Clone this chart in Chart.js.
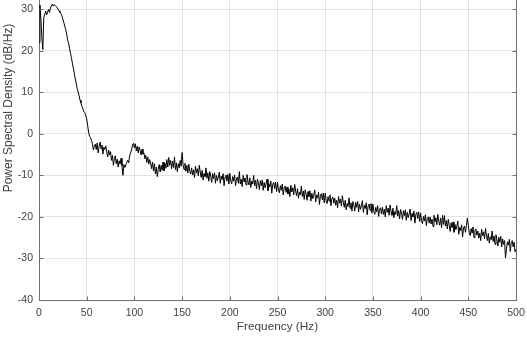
<!DOCTYPE html>
<html>
<head>
<meta charset="utf-8">
<script src="https://cdn.jsdelivr.net/npm/chart.js@4"></script>
<style>
  html, body { margin: 0; padding: 0; background: #fff; }
  #c { display: block; }
</style>
</head>
<body>
<canvas id="c" width="527" height="338"></canvas>
<script>
// Welch PSD estimate, one value per 1 Hz bin from 0 to 500 Hz (dB/Hz)
const binHz = 1;
const psd = [
  22.0, 31.0, 27.5, 23.0, 20.3, 27.9, 28.8, 29.5, 28.6, 29.3,
  29.9, 29.2, 30.3, 30.8, 31.2, 30.7, 31.1, 30.9, 30.6, 30.4,
  30.0, 29.6, 29.2, 28.9, 28.4, 27.6, 26.8, 25.9, 25.1, 24.0,
  22.6, 21.8, 20.6, 19.4, 18.3, 17.0, 15.8, 14.6, 13.2, 12.2,
  10.9, 10.1, 9.2, 8.1, 7.4, 6.6, 6.0, 5.3, 5.1, 4.4,
  3.6, 2.0, 0.4, -0.6, -0.9, -1.6, -2.4, -3.9, -3.0, -2.5,
  -3.8, -2.2, -4.6, -3.1, -2.0, -3.6, -2.7, -4.9, -3.2, -3.8,
  -2.9, -4.4, -5.6, -3.9, -5.1, -4.3, -6.4, -5.2, -7.6, -6.0,
  -5.3, -7.2, -6.1, -8.0, -6.5, -7.3, -5.9, -7.8, -10.0, -7.4,
  -8.1, -7.5, -6.9, -6.4, -7.0, -5.3, -4.6, -3.9, -2.7, -2.3,
  -3.4, -2.4, -4.1, -3.0, -4.6, -3.2, -4.0, -5.1, -3.7, -4.9,
  -4.6, -6.0, -5.2, -6.9, -5.6, -7.3, -6.2, -7.0, -8.4, -6.8,
  -8.9, -7.2, -9.6, -8.0, -10.3, -8.5, -7.4, -9.2, -7.6, -8.8,
  -6.8, -8.9, -7.1, -8.3, -6.2, -8.0, -5.7, -7.6, -6.4, -8.4,
  -6.6, -8.1, -5.6, -8.6, -7.0, -9.1, -7.2, -8.2, -6.4, -7.8,
  -4.5, -7.4, -8.6, -7.1, -9.0, -7.6, -9.4, -7.3, -8.9, -9.7,
  -8.2, -9.9, -8.7, -10.5, -7.8, -9.4, -8.4, -10.1, -7.6, -9.2,
  -10.5, -8.8, -11.1, -9.6, -10.3, -8.2, -10.7, -9.4, -11.4, -9.1,
  -10.2, -11.7, -9.6, -10.8, -9.4, -11.9, -10.0, -11.3, -10.4, -9.2,
  -11.9, -10.2, -11.0, -9.6, -12.5, -10.4, -9.9, -11.4, -9.8, -12.1,
  -9.5, -11.3, -12.0, -10.3, -11.4, -9.9, -12.5, -10.8, -10.4, -11.9,
  -9.1, -12.1, -10.9, -12.7, -10.0, -11.6, -10.6, -12.3, -9.8, -11.4,
  -12.3, -10.6, -12.9, -11.4, -12.1, -10.0, -12.5, -11.2, -13.2, -10.9,
  -11.9, -13.4, -11.3, -12.5, -11.1, -13.6, -11.7, -13.0, -12.1, -10.9,
  -13.7, -12.0, -12.8, -11.4, -14.3, -12.2, -11.7, -13.2, -11.6, -13.9,
  -11.7, -13.5, -14.2, -12.5, -13.6, -12.1, -14.7, -13.0, -12.6, -14.1,
  -12.8, -14.5, -13.3, -15.1, -12.4, -14.0, -13.0, -14.7, -12.2, -13.8,
  -14.9, -13.2, -15.5, -14.0, -14.7, -12.6, -15.1, -13.8, -15.8, -13.5,
  -14.5, -16.0, -13.9, -15.1, -13.7, -16.2, -14.3, -15.6, -14.7, -13.5,
  -16.4, -14.7, -15.5, -14.1, -17.0, -14.9, -14.4, -15.9, -14.3, -16.6,
  -14.3, -16.1, -16.8, -15.1, -16.2, -14.7, -17.3, -15.6, -15.2, -16.7,
  -15.5, -17.2, -16.0, -17.8, -15.1, -16.7, -15.7, -17.4, -14.9, -16.5,
  -17.7, -16.0, -18.3, -16.8, -17.5, -15.4, -17.9, -16.6, -18.6, -16.3,
  -17.1, -18.6, -16.5, -17.7, -16.3, -18.8, -16.9, -18.2, -17.3, -16.1,
  -18.9, -17.2, -18.0, -16.6, -19.5, -17.4, -16.9, -18.4, -16.8, -19.1,
  -16.9, -18.7, -19.4, -17.7, -18.8, -17.3, -19.9, -18.2, -17.8, -19.3,
  -17.7, -19.4, -18.2, -20.0, -17.3, -18.9, -17.9, -19.6, -17.1, -18.7,
  -19.6, -17.9, -20.2, -18.7, -19.4, -17.3, -19.8, -18.5, -20.5, -18.2,
  -19.1, -20.6, -18.5, -19.7, -18.3, -20.8, -18.9, -20.2, -19.3, -18.1,
  -20.9, -19.2, -20.0, -18.6, -21.5, -19.4, -18.9, -20.4, -18.8, -21.1,
  -19.1, -20.9, -21.6, -19.9, -21.0, -19.5, -22.1, -20.4, -20.0, -21.5,
  -20.0, -21.7, -20.5, -22.3, -19.6, -21.2, -20.2, -21.9, -19.4, -21.0,
  -22.0, -20.3, -22.6, -19.6, -21.8, -19.7, -22.2, -20.9, -22.9, -20.6,
  -22.0, -23.5, -21.4, -22.6, -21.2, -23.7, -21.8, -23.1, -22.2, -21.0,
  -24.2, -22.5, -23.3, -21.9, -24.8, -22.7, -22.2, -23.7, -22.1, -20.3,
  -22.0, -23.8, -24.5, -22.8, -23.9, -22.4, -25.0, -23.3, -22.9, -24.4,
  -23.4, -25.1, -23.9, -25.7, -23.0, -24.6, -23.6, -25.3, -22.8, -24.4,
  -25.7, -24.0, -26.3, -24.8, -25.5, -23.4, -25.9, -24.6, -26.6, -24.3,
  -25.5, -27.0, -24.9, -26.1, -24.7, -27.2, -25.3, -26.6, -25.7, -29.9,
  -27.7, -26.0, -26.8, -25.4, -28.3, -26.2, -25.7, -27.2, -26.1, -28.4,
  -27.8
];
const xTicks = [0, 50, 100, 150, 200, 250, 300, 350, 400, 450, 500];
const yTicks = [-40, -30, -20, -10, 0, 10, 20, 30];
const xRange = [0, 500];
const yRange = [-40, 32.2];
const xTitle = 'Frequency (Hz)';
const yTitle = 'Power Spectral Density (dB/Hz)';

const points = psd.map((v, i) => ({ x: i * binHz, y: v }));

const FONT = "'Liberation Sans', Arial, Helvetica, sans-serif";
const TEXT = '#404040';
const AXIS = '#707070';
const GRID = 'rgba(0,0,0,0.11)';

// Box on the right, inward tick marks and the axis titles
const axesDecor = {
  id: 'axesDecor',
  afterDraw(chart) {
    const { ctx, chartArea: a, scales } = chart;
    ctx.save();
    ctx.strokeStyle = AXIS;
    ctx.lineWidth = 1;
    ctx.beginPath();
    const r = Math.round(a.right) + 0.5;
    ctx.moveTo(r, a.top);
    ctx.lineTo(r, Math.round(a.bottom) + 0.5);
    const l = Math.round(a.left) + 0.5;
    const b = Math.round(a.bottom) + 0.5;
    yTicks.forEach(v => {
      const y = Math.round(scales.y.getPixelForValue(v)) + 0.5;
      ctx.moveTo(l, y); ctx.lineTo(l + 4, y);
      ctx.moveTo(r, y); ctx.lineTo(r - 4, y);
    });
    xTicks.forEach(v => {
      const x = Math.round(scales.x.getPixelForValue(v)) + 0.5;
      ctx.moveTo(x, b); ctx.lineTo(x, b - 4);
    });
    ctx.stroke();

    ctx.fillStyle = TEXT;
    ctx.font = '11.8px ' + FONT;
    ctx.textAlign = 'center';
    ctx.textBaseline = 'middle';
    ctx.fillText(xTitle, (a.left + a.right) / 2, 327);
    ctx.font = '12px ' + FONT;
    ctx.translate(9, 108);
    ctx.rotate(-Math.PI / 2);
    ctx.fillText(yTitle, 0, 0);
    ctx.restore();
  }
};

new Chart(document.getElementById('c'), {
  type: 'line',
  data: {
    datasets: [{
      data: points,
      borderColor: '#000000',
      borderWidth: 1,
      pointRadius: 0,
      tension: 0,
      fill: false
    }]
  },
  options: {
    responsive: false,
    devicePixelRatio: 1,
    animation: false,
    events: [],
    layout: { padding: { left: 0, right: 11, top: 0, bottom: 0 } },
    plugins: { legend: { display: false }, tooltip: { enabled: false } },
    scales: {
      x: {
        type: 'linear',
        min: xRange[0],
        max: xRange[1],
        afterBuildTicks: s => { s.ticks = xTicks.map(v => ({ value: v })); },
        afterFit: s => { s.height = 38; s.paddingLeft = 0; s.paddingRight = 0; },
        grid: { color: GRID, drawTicks: false },
        border: { display: true, color: AXIS },
        ticks: {
          font: { family: FONT, size: 10.5 },
          color: TEXT,
          padding: 7,
          maxRotation: 0,
          autoSkip: false
        }
      },
      y: {
        type: 'linear',
        min: yRange[0],
        max: yRange[1],
        afterBuildTicks: s => { s.ticks = yTicks.map(v => ({ value: v })); },
        afterFit: s => { s.width = 39; s.paddingTop = 0; s.paddingBottom = 0; },
        grid: { color: GRID, drawTicks: false },
        border: { display: true, color: AXIS },
        ticks: {
          font: { family: FONT, size: 10.5 },
          color: TEXT,
          padding: 6,
          autoSkip: false
        }
      }
    }
  },
  plugins: [axesDecor]
});
</script>
</body>
</html>
